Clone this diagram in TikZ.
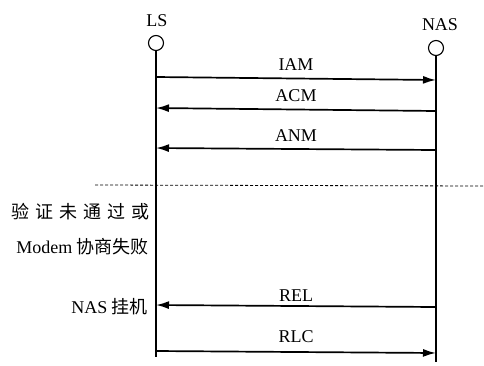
\documentclass[tikz,border=0pt]{standalone}
\usepackage{fontspec}
\setmainfont{Liberation Serif}
\newfontfamily\cjk{Noto Sans CJK SC}
\usetikzlibrary{arrows.meta}
\begin{document}
\begin{tikzpicture}[x=1pt,y=-1pt,
  lifehead/.style={circle,draw,line width=1.1pt,minimum size=15pt,inner sep=0pt},
  actor/.style={font=\fontsize{18}{20}\selectfont,inner sep=0pt},
  msg/.style={line width=1.7pt,-{Latex[length=13pt,width=8pt]}},
  life/.style={line width=1.3pt},
  lbl/.style={font=\fontsize{18}{20}\selectfont,inner sep=0pt},
  side/.style={font=\fontsize{18}{20}\selectfont,anchor=east,inner sep=0pt},
  cj/.style={font=\cjk\fontsize{18}{20}\selectfont}]
\useasboundingbox (0,0) rectangle (484,365);
\node[actor] (lsl) at (157,21) {LS};
\node[actor] (nasl) at (440,25) {NAS};
\node[lifehead] (ls) at (156,43) {};
\node[lifehead] (nas) at (436,48) {};
\coordinate (lsend) at (156,357);
\coordinate (nasend) at (436,362);
\draw[life] (ls) -- (lsend);
\draw[life] (nas) -- (nasend);
% messages
\coordinate (a1) at (156,77); \coordinate (b1) at (436,80);
\draw[msg] (a1) -- node[lbl,above=7pt] {IAM} (b1);
\coordinate (a2) at (156,108); \coordinate (b2) at (436,111);
\draw[msg] (b2) -- node[lbl,above=7pt] {ACM} (a2);
\coordinate (a3) at (156,148); \coordinate (b3) at (436,150);
\draw[msg] (b3) -- node[lbl,above=7pt] {ANM} (a3);
% dashed separator
\coordinate (d1) at (95,185); \coordinate (d2) at (484,186);
\draw[line width=0.8pt,densely dashed] (d1) -- (d2);
\node[side,cj] (t1) at (150,212) {验\hspace{6pt}证\hspace{6pt}未\hspace{6pt}通\hspace{6pt}过\hspace{6pt}或};
\node[side] (t2) at (149,247) {Modem {\cjk\fontsize{18}{20}\selectfont 协商失败}};
\node[side] (t3) at (148,307) {NAS {\cjk\fontsize{18}{20}\selectfont 挂机}};
\coordinate (a4) at (156,305); \coordinate (b4) at (436,307);
\draw[msg] (b4) -- node[lbl,above=4pt] {REL} (a4);
\coordinate (a5) at (156,351); \coordinate (b5) at (436,353);
\draw[msg] (a5) -- node[lbl,above=8pt] {RLC} (b5);
\end{tikzpicture}
\end{document}
